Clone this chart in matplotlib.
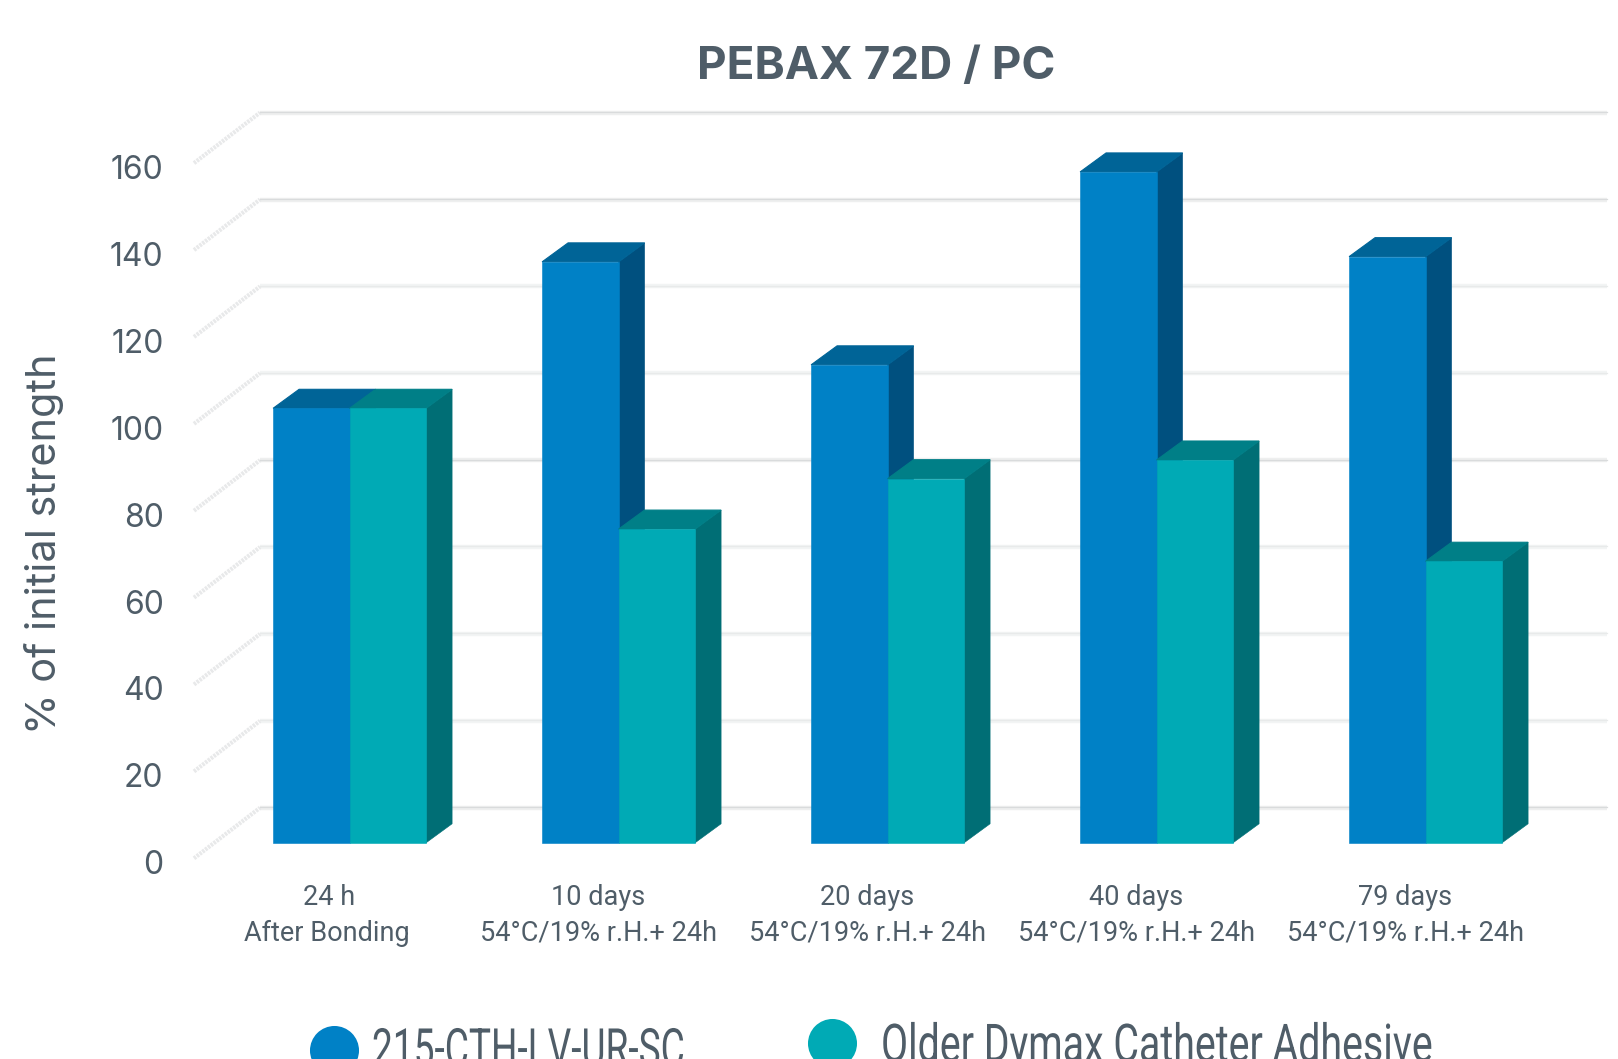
import matplotlib
matplotlib.use("Agg")
import matplotlib.pyplot as plt
from matplotlib.patches import Polygon
from matplotlib.lines import Line2D
from matplotlib.patheffects import AbstractPathEffect
from matplotlib.transforms import Affine2D

W, H = 1618, 1059
title = "PEBAX 72D / PC"
ylabel = "% of initial strength"
categories = ["24 h\nAfter Bonding", "10 days\n54°C/19% r.H.+ 24h", "20 days\n54°C/19% r.H.+ 24h",
              "40 days\n54°C/19% r.H.+ 24h", "79 days\n54°C/19% r.H.+ 24h"]
series_names = ["215-CTH-LV-UR-SC", "Older Dymax Catheter Adhesive"]
blue_values = [100, 133.7, 110, 154.4, 134.9]
teal_values = [100, 72.2, 83.8, 88.1, 64.8]
yticks = [0, 20, 40, 60, 80, 100, 120, 140, 160]
strong_grid = [0, 80, 140, 160]

TXT = "#4f5d68"
BLUE, BLUE_TOP, BLUE_SIDE = "#0081c6", "#006497", "#00507f"
TEAL, TEAL_TOP, TEAL_SIDE = "#00aab5", "#007f87", "#006e75"


class Stretch(AbstractPathEffect):
    """Scale the glyphs of a text horizontally about the text's start."""
    def __init__(self, sx):
        super().__init__()
        self.sx = sx

    def draw_path(self, renderer, gc, tpath, affine, rgbFace=None):
        renderer.draw_path(gc, tpath, Affine2D().scale(self.sx, 1) + affine, rgbFace)


fig = plt.figure(figsize=(W / 100, H / 100), dpi=100, facecolor="white")
ax = fig.add_axes([0, 0, 1, 1])
PX_X, PX_Y = 269.0, 4.345
X0 = 349.6
Y0 = 842.8
ax.set_xlim(-X0 / PX_X, (W - X0) / PX_X)
ax.set_ylim(-(H - Y0) / PX_Y, Y0 / PX_Y)
ax.axis("off")
px = lambda v: v / PX_X
py = lambda v: v / PX_Y
xpix = lambda p: (p - X0) / PX_X

# walls and gridlines
gx0, gx1 = xpix(260), xpix(1607)
wx0 = xpix(194)
for t in yticks:
    back = t + py(35)
    front = t - py(15.5)
    strong = t in strong_grid
    ax.plot([gx0, gx1], [back, back], color="#eeefef" if strong else "#f2f4f4", lw=3.2, solid_capstyle="butt", zorder=1)
    ax.plot([gx0, gx1], [back + py(0.6), back + py(0.6)], color="#d9dbdc" if strong else "#e8eaea", lw=0.9, zorder=1.1)
    ax.plot([wx0, gx0], [front, back], color="#e8e9ea", lw=3.0, ls=(0, (0.6, 0.25)), zorder=1)
    ax.text(xpix(163.5), t - py(23), str(t), ha="right", va="center",
            fontsize=23, family="Inter", color=TXT)

bw = px(76.5)
dx, dy = px(26), py(19)
for i, (b, t) in enumerate(zip(blue_values, teal_values)):
    ax.add_patch(Polygon([(i, 0), (i + dx, dy), (i + dx, b + dy), (i, b)], fc=BLUE_SIDE, ec=BLUE_SIDE, lw=0.4, zorder=2))
    ax.add_patch(Polygon([(i - bw, b), (i - bw + dx, b + dy), (i + dx, b + dy), (i, b)], fc=BLUE_TOP, ec=BLUE_TOP, lw=0.8, zorder=2))
    ax.add_patch(Polygon([(i + bw, 0), (i + bw + dx, dy), (i + bw + dx, t + dy), (i + bw, t)], fc=TEAL_SIDE, ec=TEAL_SIDE, lw=0.4, zorder=3))
    ax.add_patch(Polygon([(i, t), (i + dx, t + dy), (i + bw + dx, t + dy), (i + bw, t)], fc=TEAL_TOP, ec=TEAL_TOP, lw=0.8, zorder=3))
ax.bar([i - bw / 2 for i in range(5)], blue_values, width=bw, color=BLUE, ec=BLUE, lw=0.4, zorder=2.5)
ax.bar([i + bw / 2 for i in range(5)], teal_values, width=bw, color=TEAL, ec=TEAL, lw=0.4, zorder=3.5)

for i, c in enumerate(categories):
    top, bottom = c.split("\n")
    ax.text(i + px(-20.5 if i else -21), -py(54.8), top, ha="center", va="center", fontsize=19.5, family="Roboto", color=TXT)
    ax.text(i + px(-20.5 if i else -23), -py(90.3), bottom, ha="center", va="center", fontsize=19.5, family="Roboto", color=TXT)

fig.text(876 / W, 1 - 67 / H, title, ha="center", va="center", fontsize=33, fontweight="bold", family="Inter", color=TXT)
fig.text(44 / W, 1 - 544 / H, ylabel, rotation=90, ha="center", va="center", fontsize=29.8, family="Inter", color=TXT)

fig.add_artist(Line2D([333.5 / W], [1 - 1050 / H], marker="o", ms=35.3, mfc=BLUE, mec="none", transform=fig.transFigure))
fig.add_artist(Line2D([832 / W], [1 - 1043 / H], marker="o", ms=35.3, mfc=TEAL, mec="none", transform=fig.transFigure))
legend_texts = [
    fig.text(372 / W, 1 - 1066 / H, series_names[0], ha="left", va="baseline", fontsize=38, family="Roboto", color=TXT),
    fig.text(881 / W, 1 - 1061.5 / H, series_names[1], ha="left", va="baseline", fontsize=38, family="Roboto", color=TXT),
]
renderer = fig.canvas.get_renderer()
for txt, target in zip(legend_texts, [313, 551]):
    txt.set_path_effects([Stretch(target / txt.get_window_extent(renderer).width)])

fig.savefig("out.png", dpi=100, facecolor="white")
